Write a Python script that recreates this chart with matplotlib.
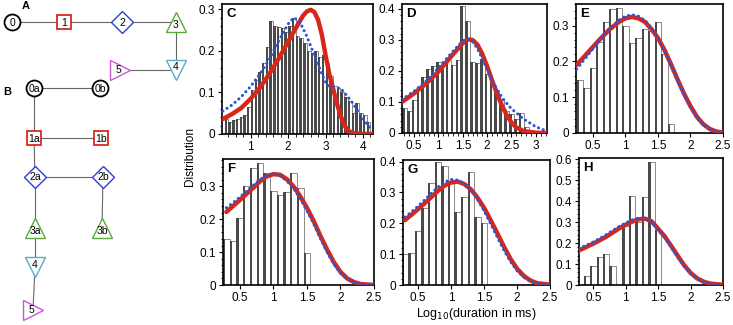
import matplotlib
matplotlib.use("Agg")
import matplotlib.pyplot as plt
from matplotlib.ticker import AutoMinorLocator, FuncFormatter, MultipleLocator

plt.rcParams['font.family'] = ['Liberation Sans', 'DejaVu Sans']

# ---- histogram data (bin centres, heights) ----
c_centers = [0.35 + 0.1 * i for i in range(39)]
c_heights = [0.035, 0.030, 0.033, 0.036, 0.040, 0.045, 0.065, 0.105, 0.130, 0.150,
             0.170, 0.210, 0.272, 0.260, 0.258, 0.255, 0.245, 0.260, 0.280, 0.235,
             0.230, 0.220, 0.200, 0.195, 0.200, 0.185, 0.190, 0.170, 0.140, 0.115,
             0.110, 0.100, 0.090, 0.080, 0.050, 0.075, 0.050, 0.045, 0.030]

d_centers = [0.3 + 0.1 * i for i in range(27)]
d_heights = [0.080, 0.072, 0.105, 0.140, 0.180, 0.205, 0.215, 0.230, 0.220, 0.235,
             0.220, 0.235, 0.410, 0.360, 0.230, 0.225, 0.240, 0.190, 0.165, 0.140,
             0.105, 0.070, 0.060, 0.045, 0.065, 0.020, 0.0]

e_centers = [0.3 + 0.1 * i for i in range(15)]
e_heights = [0.147, 0.125, 0.182, 0.255, 0.310, 0.345, 0.348, 0.300, 0.252, 0.265,
             0.290, 0.285, 0.310, 0.220, 0.025]

f_centers = [0.3 + 0.1 * i for i in range(13)]
f_heights = [0.140, 0.133, 0.205, 0.300, 0.355, 0.370, 0.340, 0.285, 0.273, 0.282,
             0.340, 0.295, 0.098]

g_centers = [0.3 + 0.1 * i for i in range(13)]
g_heights = [0.100, 0.103, 0.175, 0.250, 0.330, 0.400, 0.385, 0.335, 0.235, 0.285,
             0.365, 0.220, 0.200]

h_centers = [0.4 + 0.1 * i for i in range(12)]
h_heights = [0.045, 0.090, 0.135, 0.150, 0.090, 0.0, 0.280, 0.425, 0.300, 0.420,
             0.585, 0.260]

# ---- fitted curves (red solid, blue dotted) ----
c_red_x = [0.25, 0.5, 0.75, 1.0, 1.25, 1.5, 1.75, 2.0, 2.25, 2.4, 2.5, 2.6, 2.7, 2.8,
           2.9, 3.0, 3.1, 3.2, 3.3, 3.4, 3.5, 3.6, 3.75, 4.0, 4.25]
c_red_y = [0.036, 0.048, 0.063, 0.085, 0.112, 0.145, 0.182, 0.222, 0.262, 0.285, 0.295,
           0.299, 0.294, 0.275, 0.240, 0.190, 0.145, 0.110, 0.075, 0.045, 0.022, 0.008,
           0.002, 0.0, 0.0]
c_blue_x = [0.25, 0.5, 0.75, 1.0, 1.25, 1.5, 1.75, 2.0, 2.15, 2.3, 2.5, 2.7, 2.9, 3.0,
            3.1, 3.25, 3.4, 3.5, 3.7, 3.9, 4.1, 4.25]
c_blue_y = [0.055, 0.070, 0.090, 0.115, 0.145, 0.180, 0.225, 0.265, 0.280, 0.272, 0.235,
            0.190, 0.145, 0.125, 0.115, 0.112, 0.110, 0.100, 0.078, 0.050, 0.025, 0.008]

d_red_x = [0.25, 0.5, 0.75, 1.0, 1.25, 1.5, 1.6, 1.7, 1.8, 1.9, 2.0, 2.1, 2.2, 2.3,
           2.4, 2.5, 2.6, 2.75, 3.0, 3.23]
d_red_y = [0.100, 0.128, 0.160, 0.198, 0.245, 0.290, 0.302, 0.300, 0.285, 0.255, 0.215,
           0.170, 0.128, 0.090, 0.058, 0.034, 0.018, 0.006, 0.001, 0.0]
d_blue_x = [0.25, 0.5, 0.75, 1.0, 1.25, 1.5, 1.6, 1.7, 1.8, 1.9, 2.0, 2.1, 2.2, 2.35,
            2.5, 2.75, 3.0, 3.23]
d_blue_y = [0.108, 0.135, 0.168, 0.210, 0.255, 0.298, 0.302, 0.295, 0.272, 0.240, 0.205,
            0.172, 0.140, 0.105, 0.078, 0.045, 0.020, 0.006]

e_red_x = [0.25, 0.4, 0.5, 0.6, 0.75, 0.9, 1.0, 1.1, 1.2, 1.3, 1.4, 1.5, 1.6, 1.7,
           1.8, 1.9, 2.0, 2.1, 2.2, 2.3, 2.4, 2.5]
e_red_y = [0.190, 0.220, 0.240, 0.260, 0.288, 0.310, 0.320, 0.324, 0.320, 0.310, 0.290,
           0.265, 0.232, 0.192, 0.150, 0.110, 0.075, 0.045, 0.024, 0.011, 0.004, 0.001]
e_blue_x = e_red_x
e_blue_y = [0.178, 0.212, 0.235, 0.258, 0.290, 0.315, 0.326, 0.330, 0.326, 0.314, 0.293,
            0.265, 0.230, 0.190, 0.148, 0.107, 0.072, 0.043, 0.022, 0.010, 0.004, 0.001]

f_red_x = [0.3, 0.4, 0.5, 0.6, 0.7, 0.8, 0.9, 1.0, 1.1, 1.2, 1.3, 1.4, 1.5, 1.6, 1.7,
           1.8, 1.9, 2.0, 2.1, 2.2, 2.3, 2.5]
f_red_y = [0.222, 0.240, 0.258, 0.277, 0.295, 0.315, 0.330, 0.337, 0.335, 0.322, 0.300,
           0.270, 0.235, 0.195, 0.150, 0.108, 0.070, 0.040, 0.020, 0.009, 0.003, 0.0]
f_blue_x = f_red_x
f_blue_y = [0.235, 0.250, 0.267, 0.285, 0.303, 0.320, 0.333, 0.337, 0.332, 0.317, 0.294,
            0.263, 0.226, 0.186, 0.142, 0.100, 0.064, 0.036, 0.018, 0.008, 0.003, 0.0]

g_red_x = f_red_x
g_red_y = [0.210, 0.228, 0.246, 0.265, 0.285, 0.305, 0.322, 0.332, 0.335, 0.327, 0.310,
           0.283, 0.250, 0.210, 0.168, 0.125, 0.085, 0.053, 0.030, 0.015, 0.006, 0.001]
g_blue_x = f_red_x
g_blue_y = [0.220, 0.237, 0.256, 0.276, 0.297, 0.317, 0.333, 0.342, 0.340, 0.329, 0.308,
            0.278, 0.240, 0.198, 0.155, 0.113, 0.076, 0.046, 0.025, 0.012, 0.005, 0.001]

h_red_x = [0.28, 0.4, 0.5, 0.6, 0.7, 0.8, 0.9, 1.0, 1.1, 1.2, 1.3, 1.4, 1.5, 1.6, 1.7,
           1.8, 1.9, 2.0, 2.1, 2.2, 2.3, 2.5]
h_red_y = [0.165, 0.182, 0.197, 0.213, 0.230, 0.250, 0.270, 0.287, 0.302, 0.313, 0.316,
           0.303, 0.268, 0.232, 0.187, 0.140, 0.095, 0.058, 0.032, 0.016, 0.007, 0.001]
h_blue_x = h_red_x
h_blue_y = [0.175, 0.190, 0.205, 0.222, 0.240, 0.260, 0.279, 0.296, 0.310, 0.319, 0.318,
            0.302, 0.265, 0.226, 0.180, 0.133, 0.090, 0.054, 0.029, 0.014, 0.006, 0.001]

# panel: letter, data, axes box in pixels (left, top, right, bottom), xlim, ylim, ticks
panels = [
    ('C', c_centers, c_heights, c_red_x, c_red_y, c_blue_x, c_blue_y,
     (222, 4, 373, 134), (0.23, 4.27), (0, 0.313), [1, 2, 3, 4], [0, 0.1, 0.2, 0.3], 0.2, 0.65),
    ('D', d_centers, d_heights, d_red_x, d_red_y, d_blue_x, d_blue_y,
     (402, 4, 547, 133), (0.25, 3.23), (0, 0.416), [0.5, 1, 1.5, 2, 2.5, 3],
     [0, 0.1, 0.2, 0.3, 0.4], 0.1, 0.55),
    ('E', e_centers, e_heights, e_red_x, e_red_y, e_blue_x, e_blue_y,
     (576, 4, 723, 133), (0.24, 2.5), (0, 0.36), [0.5, 1, 1.5, 2, 2.5],
     [0, 0.1, 0.2, 0.3], None, 0.35),
    ('F', f_centers, f_heights, f_red_x, f_red_y, f_blue_x, f_blue_y,
     (223, 159, 374, 285), (0.25, 2.5), (0, 0.383), [0.5, 1, 1.5, 2, 2.5],
     [0, 0.1, 0.2, 0.3], None, 0.35),
    ('G', g_centers, g_heights, g_red_x, g_red_y, g_blue_x, g_blue_y,
     (403, 160, 550, 285), (0.27, 2.5), (0, 0.405), [0.5, 1, 1.5, 2, 2.5],
     [0, 0.1, 0.2, 0.3, 0.4], None, 0.35),
    ('H', h_centers, h_heights, h_red_x, h_red_y, h_blue_x, h_blue_y,
     (579, 158, 723, 285), (0.28, 2.5), (0, 0.605), [0.5, 1, 1.5, 2, 2.5],
     [0, 0.1, 0.2, 0.3, 0.4, 0.5, 0.6], None, 0.35),
]

# ---- state diagram (pixel layout) ----
nodes = {
    '0': (12, 22, 'o', 'black'), '1': (64, 22, 's', '#d42a1e'),
    '2': (122, 22, 'D', '#2a3fd8'), '3': (176, 22, '^', '#5aaa3c'),
    '4': (176, 70, 'v', '#5aaccc'), '5': (120, 70, '>', '#c85ad8'),
    '0a': (34, 88, 'o', 'black'), '0b': (100, 88, 'o', 'black'),
    '1a': (34, 138, 's', '#d42a1e'), '1b': (101, 138, 's', '#d42a1e'),
    '2a': (35, 177, 'D', '#2a3fd8'), '2b': (103, 177, 'D', '#2a3fd8'),
    '3a': (35, 228, '^', '#5aaa3c'), '3b': (102, 228, '^', '#5aaa3c'),
    '4b': (35, 267, 'v', '#5aaccc'), '5b': (33, 310, '>', '#c85ad8'),
}
edges = [('0', '1'), ('1', '2'), ('2', '3'), ('3', '4'), ('4', '5'),
         ('0a', '0b'), ('0a', '1a'), ('1a', '1b'), ('1a', '2a'), ('2a', '2b'),
         ('2a', '3a'), ('2b', '3b'), ('3a', '4b'), ('4b', '5b')]

W, H = 733, 325
fig = plt.figure(figsize=(W / 100, H / 100), dpi=100)

dax = fig.add_axes([0, 0, 200 / W, 1])
dax.set_xlim(0, 200)
dax.set_ylim(H, 0)
dax.axis('off')
for a, b in edges:
    xa, ya = nodes[a][:2]
    xb, yb = nodes[b][:2]
    dax.plot([xa, xb], [ya, yb], color='#666666', lw=0.8, zorder=1)
for name, (x, y, m, col) in nodes.items():
    if m == 'o':
        dax.plot(x, y, marker='o', ms=11.5, mfc='white', mec=col, mew=1.3, zorder=3)
    elif m == 's':
        dax.plot(x, y, marker='s', ms=10, mfc='white', mec=col, mew=1.3, zorder=3)
    elif m == 'D':
        dax.plot(x, y, marker='D', ms=11, mfc='white', mec=col, mew=1.0, zorder=3)
    else:
        dax.plot(x, y, marker=m, ms=14, mfc='white', mec=col, mew=1.0, zorder=3)
    dy = {'^': 3, 'v': -2.5, '>': 0}.get(m, 0.5)
    dx = -2 if m == '>' else 0
    dax.text(x + dx, y + dy, name.rstrip('b') if name in ('4b', '5b') else name,
             ha='center', va='center', fontsize=7.5, zorder=4)
dax.text(26, 6, 'A', fontsize=8, fontweight='bold', ha='center', va='center')
dax.text(7, 92, 'B', fontsize=8, fontweight='bold', ha='center', va='center')

fmt = FuncFormatter(lambda v, p: '%g' % v)
for (letter, cx, hh, rx, ry, bx, by, box, xl, yl, xt, yt, xminor, frac) in panels:
    l, t, r, b = box
    ax = fig.add_axes([l / W, (H - b) / H, (r - l) / W, (b - t) / H])
    w = 0.1
    ax.bar(cx, hh, width=w, color='white', edgecolor='#777777', lw=0.6, zorder=1)
    ax.bar([c - w / 2 for c in cx], hh, width=w * frac, align='edge',
           color='#4a4a4a', lw=0, zorder=2)
    ax.plot(rx, ry, color='#d8261a', lw=3.2, solid_capstyle='round', zorder=3)
    ax.plot(bx, by, color='#2a55d8', lw=2.2, ls=(0, (0.05, 1.6)),
            dash_capstyle='round', zorder=4)
    ax.set_xlim(*xl)
    ax.set_ylim(*yl)
    ax.set_xticks(xt)
    ax.set_yticks(yt)
    ax.xaxis.set_major_formatter(fmt)
    ax.yaxis.set_major_formatter(fmt)
    ax.yaxis.set_minor_locator(AutoMinorLocator())
    if xminor:
        ax.xaxis.set_minor_locator(MultipleLocator(xminor))
    ax.tick_params(labelsize=8.5, length=3, width=0.8, pad=2)
    ax.tick_params(which='minor', length=1.8, width=0.6)
    for s in ax.spines.values():
        s.set_linewidth(1.2)
    ax.text(0.03, 0.97, letter, transform=ax.transAxes, fontsize=9.5,
            fontweight='bold', ha='left', va='top')

fig.text(190 / W, 1 - 157 / H, 'Distribution', rotation=90, fontsize=8.5,
         ha='center', va='center')
fig.text(476 / W, 1 - 314 / H, 'Log$_{10}$(duration in ms)', fontsize=9,
         ha='center', va='center')

fig.savefig('out.png', dpi=100)
